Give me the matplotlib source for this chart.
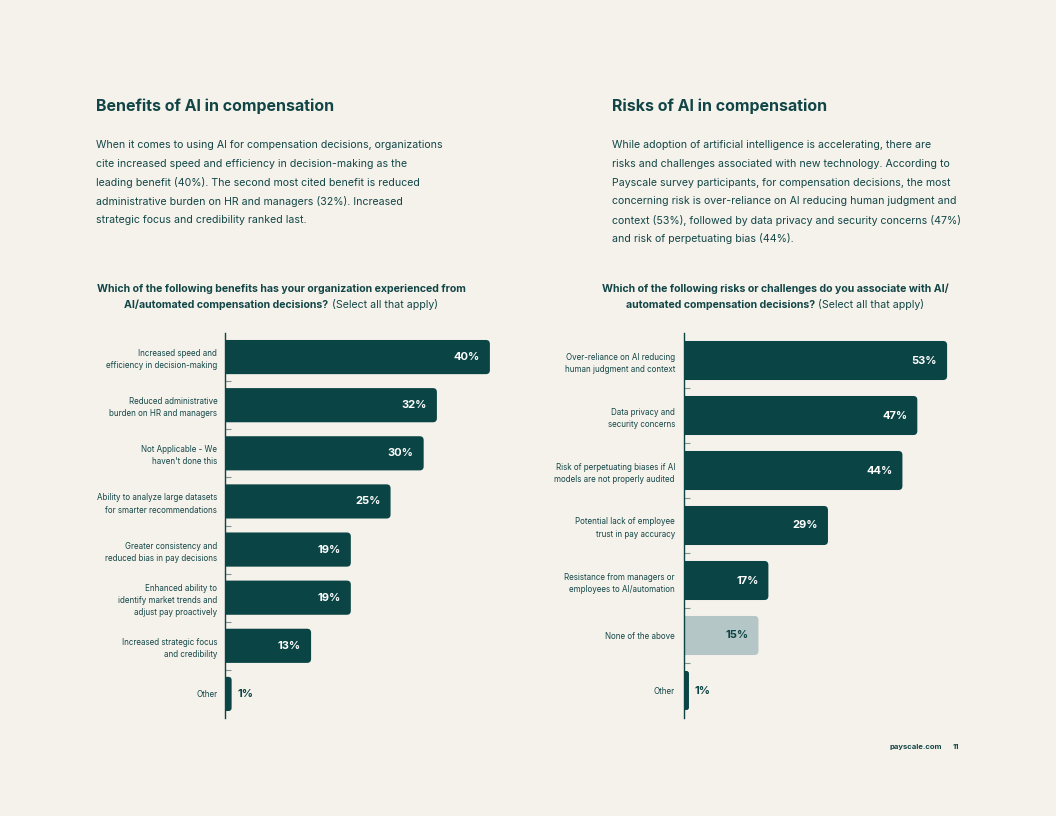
import matplotlib
matplotlib.use("Agg")
import matplotlib.pyplot as plt
from matplotlib.patches import FancyBboxPatch

plt.rcParams["font.family"] = ["Inter", "DejaVu Sans"]

BG = "#F5F2EC"
DARK = "#0B4444"
LIGHT = "#B4C6C6"
TEXT = "#124646"
TICK = "#7E9494"

W, H = 1056, 816

benefit_labels = [
    "Increased speed and\nefficiency in decision-making",
    "Reduced administrative\nburden on HR and managers",
    "Not Applicable - We\nhaven't done this",
    "Ability to analyze large datasets\nfor smarter recommendations",
    "Greater consistency and\nreduced bias in pay decisions",
    "Enhanced ability to\nidentify market trends and\nadjust pay proactively",
    "Increased strategic focus\nand credibility",
    "Other",
]
benefit_values = [40, 32, 30, 25, 19, 19, 13, 1]

risk_labels = [
    "Over-reliance on AI reducing\nhuman judgment and context",
    "Data privacy and\nsecurity concerns",
    "Risk of perpetuating biases if AI\nmodels are not properly audited",
    "Potential lack of employee\ntrust in pay accuracy",
    "Resistance from managers or\nemployees to AI/automation",
    "None of the above",
    "Other",
]
risk_values = [53, 47, 44, 29, 17, 15, 1]
risk_light = [False, False, False, False, False, True, False]

benefits_title = "Benefits of AI in compensation"
benefits_body = [
    "When it comes to using AI for compensation decisions, organizations",
    "cite increased speed and efficiency in decision-making as the",
    "leading benefit (40%). The second most cited benefit is reduced",
    "administrative burden on HR and managers (32%). Increased",
    "strategic focus and credibility ranked last.",
]
risks_title = "Risks of AI in compensation"
risks_body = [
    "While adoption of artificial intelligence is accelerating, there are",
    "risks and challenges associated with new technology. According to",
    "Payscale survey participants, for compensation decisions, the most",
    "concerning risk is over-reliance on AI reducing human judgment and",
    "context (53%), followed by data privacy and security concerns (47%)",
    "and risk of perpetuating bias (44%).",
]
benefits_q1 = "Which of the following benefits has your organization experienced from"
benefits_q2 = ("AI/automated compensation decisions?", "(Select all that apply)")
risks_q1 = "Which of the following risks or challenges do you associate with AI/"
risks_q2 = ("automated compensation decisions?", "(Select all that apply)")


def fx(x):
    return x / W


def fy(y):
    return 1 - y / H


def bar_chart(ax, labels, values, xmax, pad, light=None):
    n = len(values)
    y = list(range(n))
    bars = ax.barh(y, values, height=0.71, color="none")
    ax.set_xlim(0, xmax)
    ax.set_ylim(n - 0.5, -0.5)
    # pixel scale, used to keep the corner rounding circular
    bb = ax.get_position()
    px_x = bb.width * W / xmax
    px_y = bb.height * H / n
    r = 4 / px_x
    aspect = px_x / px_y
    for i, b in enumerate(bars):
        col = LIGHT if (light and light[i]) else DARK
        x0, y0, w, h = b.get_x(), b.get_y(), b.get_width(), b.get_height()
        rr = min(r, w / 2)
        # start left of the axis so only the right corners show rounded
        ax.add_patch(FancyBboxPatch((x0 - 2 * rr, y0), w + 2 * rr, h,
                                    boxstyle=f"round,pad=0,rounding_size={rr}",
                                    mutation_aspect=aspect, fc=col, ec="none"))
        if w < 5:
            ax.text(w + 6 / px_x, i, f"{values[i]}%", va="center", ha="left",
                    fontsize=8, fontweight="bold", color=DARK)
        else:
            tc = DARK if (light and light[i]) else "white"
            ax.text(w - 10 / px_x, i, f"{values[i]}%", va="center", ha="right",
                    fontsize=8, fontweight="bold", color=tc)
    ax.set_yticks(y)
    ax.set_yticklabels(labels, fontsize=5.75, color=TEXT, linespacing=1.45)
    ax.tick_params(axis="y", which="major", length=0, pad=pad)
    ax.set_yticks([k + 0.5 for k in range(n - 1)], minor=True)
    ax.tick_params(axis="y", which="minor", direction="in", length=4,
                   width=0.8, color=TICK)
    ax.set_xticks([])
    for s in ["top", "right", "bottom"]:
        ax.spines[s].set_visible(False)
    ax.spines["left"].set_color(DARK)
    ax.spines["left"].set_linewidth(1.0)
    ax.spines["left"].set_zorder(5)
    ax.set_facecolor("none")
    for lab in ax.get_yticklabels():
        lab.set_multialignment("right")


def mixed_line(fig, xc, y, parts, gap=3):
    t1 = fig.text(0, fy(y), parts[0], fontsize=7.6, fontweight="bold",
                  color=TEXT, va="center", ha="left")
    t2 = fig.text(0, fy(y), parts[1], fontsize=7.6, color=TEXT,
                  va="center", ha="left")
    r = fig.canvas.get_renderer()
    w1 = t1.get_window_extent(r).width
    w2 = t2.get_window_extent(r).width
    x0 = xc - (w1 + gap + w2) / 2
    t1.set_x(fx(x0))
    t2.set_x(fx(x0 + w1 + gap))


def main():
    fig = plt.figure(figsize=(W / 100, H / 100), dpi=100, facecolor=BG)

    ax1 = fig.add_axes([fx(225), fy(718), 298 / W, 385 / H])
    bar_chart(ax1, benefit_labels, benefit_values, 45, pad=5.5)

    ax2 = fig.add_axes([fx(684), fy(718), 278 / W, 385 / H])
    bar_chart(ax2, risk_labels, risk_values, 56, pad=6.5, light=risk_light)

    fig.text(fx(96), fy(106), benefits_title, fontsize=11.5, fontweight="bold",
             color=TEXT, va="center", ha="left")
    fig.text(fx(612), fy(106), risks_title, fontsize=11.5, fontweight="bold",
             color=TEXT, va="center", ha="left")
    for k, line in enumerate(benefits_body):
        fig.text(fx(96), fy(145 + 18.8 * k), line, fontsize=7.6, color=TEXT,
                 va="center", ha="left")
    for k, line in enumerate(risks_body):
        fig.text(fx(612), fy(145 + 18.8 * k), line, fontsize=7.6, color=TEXT,
                 va="center", ha="left")

    fig.text(fx(281), fy(289), benefits_q1, fontsize=7.6, fontweight="bold",
             color=TEXT, va="center", ha="center")
    mixed_line(fig, 281, 305, benefits_q2)
    fig.text(fx(775), fy(289), risks_q1, fontsize=7.6, fontweight="bold",
             color=TEXT, va="center", ha="center")
    mixed_line(fig, 775, 305, risks_q2)

    fig.text(fx(942), fy(747), "payscale.com", fontsize=5.5, fontweight="bold",
             color=TEXT, va="center", ha="right")
    fig.text(fx(953), fy(747), "11", fontsize=5.5, fontweight="bold",
             color=TEXT, va="center", ha="left")

    fig.savefig("out.png", dpi=100, facecolor=BG)


if __name__ == "__main__":
    main()
